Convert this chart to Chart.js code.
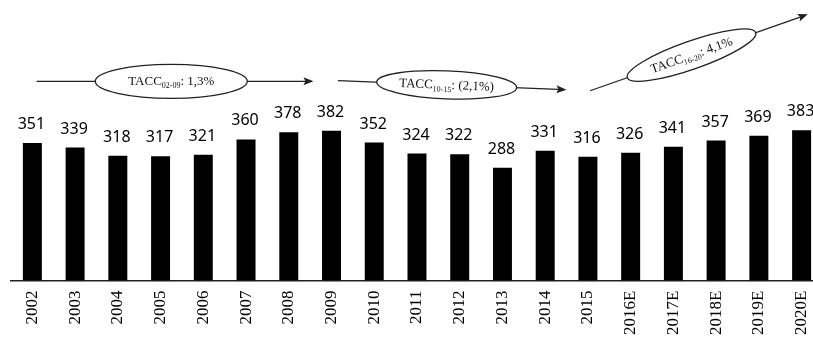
<!DOCTYPE html>
<html>
<head>
<meta charset="utf-8">
<script src="https://cdn.jsdelivr.net/npm/chart.js@4/dist/chart.umd.min.js"></script>
<style>
  html, body { margin: 0; padding: 0; background: #fff; overflow: hidden; }
  #wrap { position: relative; width: 832px; height: 345px; }
</style>
</head>
<body>
<div id="wrap"><canvas id="chart"></canvas></div>
<script>
// Annual volume by year (E = estimate)
const years = ['2002','2003','2004','2005','2006','2007','2008','2009','2010','2011',
               '2012','2013','2014','2015','2016E','2017E','2018E','2019E','2020E'];
const values = [351, 339, 318, 317, 321, 360, 378, 382, 352, 324,
                322, 288, 331, 316, 326, 341, 357, 369, 383];

// Compound annual growth per period
const taccPeriods = ['02-09', '10-15', '16-20'];
const taccRates   = ['1,3%', '(2,1%)', '4,1%'];

// Trend arrows: start/end as [category index, value]; ellipse sits at fraction `at`
const trendArrows = [
  { from: [0.1, 508], to: [6.53, 508], at: 0.49, rx: 76, ry: 17 },
  { from: [7.15, 510], to: [12.45, 487], at: 0.48, rx: 70, ry: 14 },
  { from: [13.05, 484], to: [18.1, 677], at: 0.47, rx: 68, ry: 14 }
];

const valueLabels = {
  id: 'valueLabels',
  afterDatasetsDraw(chart) {
    const ctx = chart.ctx;
    const meta = chart.getDatasetMeta(0);
    ctx.save();
    ctx.font = '16px "Noto Sans", sans-serif';
    ctx.fillStyle = '#000';
    ctx.textAlign = 'center';
    ctx.textBaseline = 'alphabetic';
    meta.data.forEach((bar, i) => {
      ctx.fillText(String(values[i]), bar.x - 1, bar.y - 14);
    });
    ctx.restore();
  }
};

const trendMarks = {
  id: 'trendMarks',
  afterDatasetsDraw(chart) {
    const ctx = chart.ctx;
    const xs = chart.scales.x, ys = chart.scales.y;
    trendArrows.forEach((a, k) => {
      const x1 = xs.getPixelForValue(a.from[0]), y1 = ys.getPixelForValue(a.from[1]);
      const x2 = xs.getPixelForValue(a.to[0]),   y2 = ys.getPixelForValue(a.to[1]);
      const ang = Math.atan2(y2 - y1, x2 - x1);
      const cx = x1 + (x2 - x1) * a.at, cy = y1 + (y2 - y1) * a.at;
      ctx.save();
      ctx.strokeStyle = '#222';
      ctx.fillStyle = '#222';
      ctx.lineWidth = 1.3;
      ctx.beginPath();
      ctx.moveTo(x1, y1);
      ctx.lineTo(x2, y2);
      ctx.stroke();
      // arrow head
      ctx.translate(x2, y2);
      ctx.rotate(ang);
      ctx.beginPath();
      ctx.moveTo(2, 0);
      ctx.lineTo(-8, -4);
      ctx.lineTo(-6, 0);
      ctx.lineTo(-8, 4);
      ctx.closePath();
      ctx.fill();
      ctx.restore();

      // ellipse with label
      ctx.save();
      ctx.translate(cx, cy);
      ctx.rotate(ang);
      ctx.beginPath();
      ctx.ellipse(0, 0, a.rx, a.ry, 0, 0, Math.PI * 2);
      ctx.fillStyle = '#fff';
      ctx.fill();
      ctx.lineWidth = 1.3;
      ctx.strokeStyle = '#222';
      ctx.stroke();
      const main = '13px "Liberation Serif", serif';
      const sub = '8px "Liberation Serif", serif';
      const t1 = 'TACC', t2 = taccPeriods[k], t3 = ': ' + taccRates[k];
      ctx.font = main; const w1 = ctx.measureText(t1).width, w3 = ctx.measureText(t3).width;
      ctx.font = sub;  const w2 = ctx.measureText(t2).width;
      let x = -(w1 + w2 + w3) / 2;
      ctx.fillStyle = '#111';
      ctx.textBaseline = 'alphabetic';
      ctx.textAlign = 'left';
      ctx.font = main; ctx.fillText(t1, x, 4); x += w1;
      ctx.font = sub;  ctx.fillText(t2, x, 7); x += w2;
      ctx.font = main; ctx.fillText(t3, x, 4);
      ctx.restore();
    });
  }
};

new Chart(document.getElementById('chart'), {
  type: 'bar',
  data: {
    labels: years,
    datasets: [{
      data: values,
      backgroundColor: '#000',
      borderWidth: 0,
      barPercentage: 0.444,
      categoryPercentage: 1.0
    }]
  },
  options: {
    responsive: true,
    maintainAspectRatio: false,
    animation: false,
    layout: { padding: { left: 11, right: 0, top: 6, bottom: 0 } },
    plugins: { legend: { display: false }, tooltip: { enabled: false } },
    scales: {
      x: {
        grid: { display: false, drawTicks: false },
        border: { display: true, color: '#222', width: 1.5 },
        ticks: {
          color: '#000',
          font: { family: '"Liberation Serif", serif', size: 17 },
          minRotation: 90, maxRotation: 90,
          padding: 10,
          autoSkip: false
        }
      },
      y: {
        display: false,
        min: 0,
        max: 700
      }
    }
  },
  plugins: [valueLabels, trendMarks]
});
</script>
</body>
</html>
